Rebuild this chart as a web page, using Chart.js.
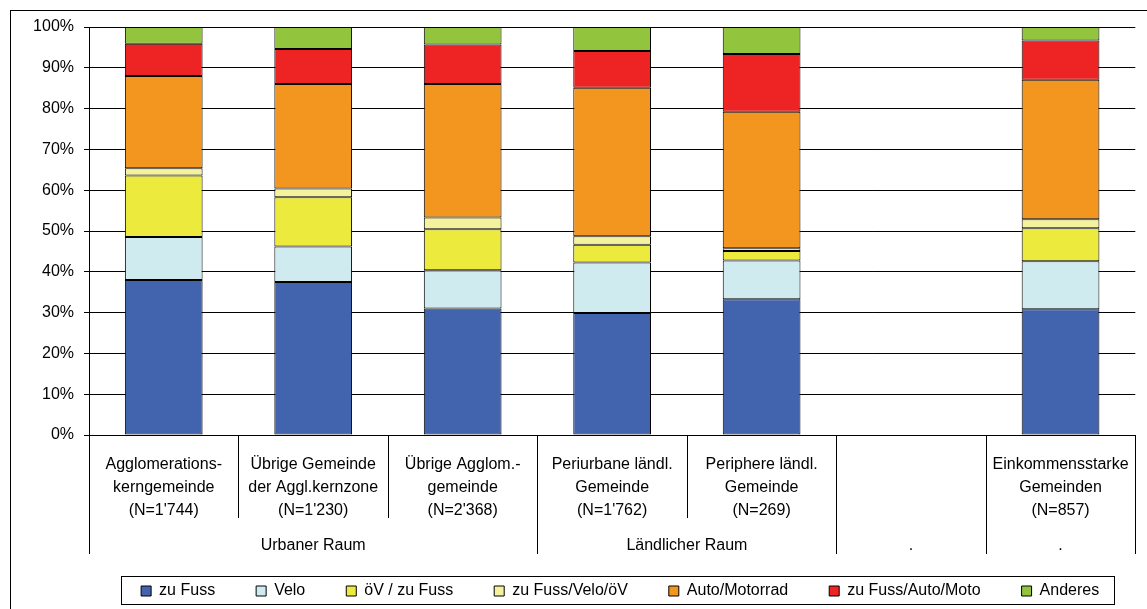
<!DOCTYPE html>
<html lang="de">
<head>
<meta charset="utf-8">
<title>Verkehrsmittelwahl nach Gemeindetyp</title>
<script src="https://cdn.jsdelivr.net/npm/chart.js@4"></script>
<style>
    html, body { margin: 0; padding: 0; background: #fff; }
    #wrap { position: relative; width: 1147px; height: 609px; }
</style>
</head>
<body>
<div id="wrap"><canvas id="modalChart"></canvas></div>
<script>
/* Daten: Anteile in % */
const categories = [
    ["Agglomerations-", "kerngemeinde", "(N=1'744)"],
    ["Übrige Gemeinde", "der Aggl.kernzone", "(N=1'230)"],
    ["Übrige Agglom.-", "gemeinde", "(N=2'368)"],
    ["Periurbane ländl.", "Gemeinde", "(N=1'762)"],
    ["Periphere ländl.", "Gemeinde", "(N=269)"],
    [""],
    ["Einkommensstarke", "Gemeinden", "(N=857)"]
];
const groupLabels = ["Urbaner Raum", "Ländlicher Raum", ".", "."];
const groupSizes = [3, 2, 1, 1];

const zuFuss        = [38.0, 37.5, 31.0, 29.9, 33.3, null, 30.8];
const velo          = [10.5,  8.7,  9.4, 12.4,  9.5, null, 11.8];
const oevZuFuss     = [15.1, 12.1, 10.0,  4.3,  2.3, null,  8.1];
const fussVeloOev   = [ 1.8,  2.1,  2.9,  2.1,  0.7, null,  2.2];
const autoMotorrad  = [22.6, 25.6, 32.7, 36.4, 33.4, null, 34.2];
const fussAutoMoto  = [ 7.9,  8.6,  9.7,  9.0, 14.2, null,  9.6];
const anderes       = [ 4.1,  5.4,  4.3,  5.9,  6.6, null,  3.3];

const yTicks = [0, 10, 20, 30, 40, 50, 60, 70, 80, 90, 100];

const FONT = "'Liberation Sans', Arial, sans-serif";
const LEGEND_SHIFT = 8;

function ds(label, data, color) {
    return {
        label: label,
        data: data,
        backgroundColor: color,
        borderColor: "#000",
        borderWidth: 1,
        borderSkipped: false,
        barPercentage: 0.52,
        categoryPercentage: 1.0
    };
}

/* Legende nur beim Zeichnen etwas nach rechts schieben (wie im Original) */
const legendShiftPlugin = {
    id: "legendShift",
    beforeDraw(chart) {
        const lg = chart.legend;
        if (!lg) return;
        lg.left += LEGEND_SHIFT;
        lg.right += LEGEND_SHIFT;
    },
    afterDraw(chart) {
        const lg = chart.legend;
        if (!lg) return;
        lg.left -= LEGEND_SHIFT;
        lg.right -= LEGEND_SHIFT;
    }
};

/* Rahmen, Gruppenbeschriftung und Trennlinien unter der x-Achse */
const decorPlugin = {
    id: "decor",
    afterDraw(chart) {
        const ctx = chart.ctx;
        const x = chart.scales.x;
        const area = chart.chartArea;
        const step = (area.right - area.left) / categories.length;

        ctx.save();
        ctx.strokeStyle = "#000";
        ctx.lineWidth = 1;

        // äusserer Rahmen (nur oben/links sichtbar)
        ctx.strokeRect(10.5, 10.5, 1300, 700);

        // Trennlinien der Kategorien und Gruppen
        const groupEdges = [0];
        groupSizes.reduce((acc, n) => { groupEdges.push(acc + n); return acc + n; }, 0);
        for (let i = 0; i <= categories.length; i++) {
            const px = Math.round(x.getPixelForValue(i) - step / 2) + 0.5;
            const long = groupEdges.includes(i);
            ctx.beginPath();
            ctx.moveTo(px, area.bottom);
            ctx.lineTo(px, area.bottom + (long ? 119 : 83));
            ctx.stroke();
        }

        // Gruppenbeschriftung
        ctx.fillStyle = "#000";
        ctx.font = "16px " + FONT;
        ctx.textAlign = "center";
        ctx.textBaseline = "middle";
        let start = 0;
        groupSizes.forEach((n, g) => {
            const cx = (x.getPixelForValue(start) + x.getPixelForValue(start + n - 1)) / 2;
            ctx.fillText(groupLabels[g], cx, area.bottom + 111);
            start += n;
        });

        // Legendenrahmen
        const lg = chart.legend;
        if (lg && lg.legendHitBoxes && lg.legendHitBoxes.length) {
            const hb = lg.legendHitBoxes;
            const first = hb[0];
            const last = hb[hb.length - 1];
            const left = Math.round(first.left + LEGEND_SHIFT - 20) + 0.5;
            const right = Math.round(last.left + last.width + LEGEND_SHIFT + 15) + 0.5;
            const top = Math.round(first.top - 7) + 0.5;
            const bottom = Math.round(first.top + first.height + 5) + 0.5;
            ctx.strokeRect(left, top, right - left, bottom - top);
        }
        ctx.restore();
    }
};

new Chart(document.getElementById("modalChart"), {
    type: "bar",
    data: {
        labels: categories,
        datasets: [
            ds("zu Fuss", zuFuss, "#4264AE"),
            ds("Velo", velo, "#CFEBF0"),
            ds("öV / zu Fuss", oevZuFuss, "#EDEA3E"),
            ds("zu Fuss/Velo/öV", fussVeloOev, "#F5F29E"),
            ds("Auto/Motorrad", autoMotorrad, "#F3961F"),
            ds("zu Fuss/Auto/Moto", fussAutoMoto, "#EE2424"),
            ds("Anderes", anderes, "#93C43D")
        ]
    },
    options: {
        responsive: true,
        maintainAspectRatio: false,
        animation: false,
        layout: { padding: { top: 27, right: 6, bottom: 0, left: 0 } },
        plugins: {
            tooltip: { enabled: false },
            legend: {
                position: "bottom",
                fullSize: false,
                labels: {
                    color: "#000",
                    font: { family: FONT, size: 16 },
                    boxWidth: 10,
                    boxHeight: 10,
                    padding: 41
                }
            }
        },
        scales: {
            x: {
                stacked: true,
                offset: true,
                grid: { display: false, drawTicks: false },
                border: { display: true, color: "#000", width: 1 },
                ticks: {
                    color: "#000",
                    font: { family: FONT, size: 16, lineHeight: 1.45 },
                    padding: 18,
                    maxRotation: 0,
                    autoSkip: false
                },
                afterFit(scale) { scale.height = 107; }
            },
            y: {
                stacked: true,
                min: 0,
                max: 100,
                afterBuildTicks(scale) { scale.ticks = yTicks.map(v => ({ value: v })); },
                grid: { color: "#000", lineWidth: 1, tickLength: 5, drawTicks: true },
                border: { display: true, color: "#000", width: 1 },
                ticks: {
                    color: "#000",
                    font: { family: FONT, size: 16 },
                    padding: 10,
                    callback: v => v + "%"
                },
                afterFit(scale) { scale.width = 89; }
            }
        }
    },
    plugins: [legendShiftPlugin, decorPlugin]
});
</script>
</body>
</html>
